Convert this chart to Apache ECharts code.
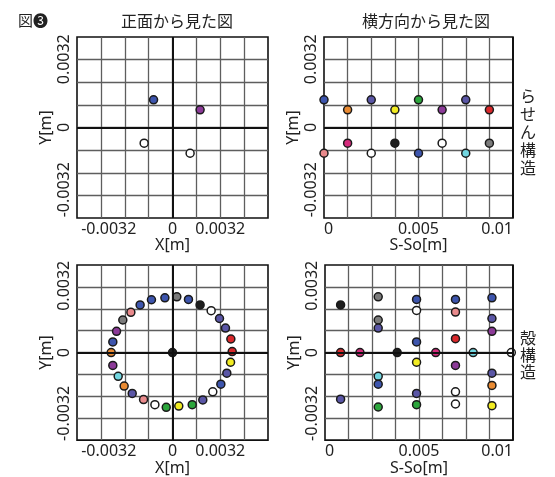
<!DOCTYPE html>
<html>
<head>
<meta charset="utf-8">
<script src="https://cdn.jsdelivr.net/npm/echarts@6/dist/echarts.min.js"></script>
<style>
  html, body { margin: 0; background: #fff; }
  #chart { width: 555px; height: 477px; }
</style>
</head>
<body>
<div id="chart"></div>
<script>
// fill colours of the markers
const palette = {
  blue: '#3d55ad', slate: '#5a56a6', purple: '#8c3a98', magenta: '#d52a7c',
  pink: '#e98a8c', red: '#d9282b', orange: '#e98a32', yellow: '#f2ec22',
  green: '#2ca63c', cyan: '#72d6e0', gray: '#7b7b7b', black: '#1e1e1e', white: '#ffffff'
}

// ---- helix, seen from the front
const helixFrontX = [-0.00127, 0.00185, -0.0019, 0.00118]
const helixFrontY = [0.00196, 0.00125, -0.00111, -0.00182]
const helixFrontColor = ['blue', 'purple', 'white', 'white']

// ---- helix, seen from the side
const helixSideS = [0, 0, 0.00125, 0.00125, 0.0025, 0.0025, 0.00375, 0.00375,
  0.005, 0.005, 0.00625, 0.00625, 0.0075, 0.0075, 0.00875, 0.00875]
const helixSideY = [0.00196, -0.00182, 0.00125, -0.00111, 0.00196, -0.00182, 0.00125, -0.00111,
  0.00196, -0.00182, 0.00125, -0.00111, 0.00196, -0.00182, 0.00125, -0.00111]
const helixSideColor = ['blue', 'pink', 'orange', 'magenta', 'slate', 'white', 'yellow', 'black',
  'green', 'blue', 'purple', 'white', 'slate', 'cyan', 'red', 'gray']

// ---- shell, seen from the front
const shellFrontX = [0.00029, 0.00107, 0.00185, 0.00259, 0.00315, 0.00355, 0.00391, 0.004,
  0.00389, 0.00364, 0.00324, 0.0027, 0.00203, 0.00132, 0.00042, -0.00042,
  -0.00118, -0.00194, -0.0027, -0.00324, -0.00364, -0.004, -0.00411, -0.004,
  -0.00375, -0.00333, -0.00279, -0.00217, -0.00141, -0.00051, 0]
const shellFrontY = [0.00407, 0.00388, 0.00348, 0.00306, 0.00249, 0.00179, 0.00099, 0.00007,
  -0.00071, -0.00151, -0.00231, -0.00287, -0.00346, -0.00381, -0.00391, -0.004,
  -0.00381, -0.00344, -0.00299, -0.00245, -0.00174, -0.00094, 0, 0.00078,
  0.00155, 0.00238, 0.00294, 0.00348, 0.00386, 0.004, 0]
const shellFrontColor = ['gray', 'blue', 'black', 'white', 'slate', 'slate', 'red', 'red',
  'yellow', 'slate', 'blue', 'white', 'slate', 'green', 'yellow', 'green',
  'white', 'pink', 'slate', 'orange', 'cyan', 'purple', 'orange', 'blue',
  'purple', 'gray', 'pink', 'blue', 'blue', 'blue', 'black']

// ---- shell, seen from the side
const shellSideS = [0.00083, 0.00083, 0.00083, 0.00186,
  0.00283, 0.00283, 0.00283, 0.00283, 0.00283, 0.00283, 0.00384,
  0.00487, 0.00487, 0.00487, 0.00487, 0.00487, 0.00487, 0.00589,
  0.00694, 0.00694, 0.00694, 0.00694, 0.00694, 0.00694, 0.00788,
  0.00888, 0.00888, 0.00888, 0.00888, 0.00888, 0.00888, 0.00991]
const shellSideY = [0.00348, 0, -0.00341, 0,
  0.00407, 0.00238, 0.00179, -0.00174, -0.00231, -0.00398, 0,
  0.00388, 0.00308, 0.00078, -0.00071, -0.00299, -0.00381, 0,
  0.00388, 0.00296, 0.00101, -0.00094, -0.00287, -0.00376, 0,
  0.004, 0.00249, 0.00155, -0.00151, -0.0024, -0.00388, 0]
const shellSideColor = ['black', 'red', 'slate', 'magenta',
  'gray', 'gray', 'slate', 'cyan', 'blue', 'green', 'black',
  'blue', 'white', 'blue', 'yellow', 'slate', 'green', 'magenta',
  'blue', 'pink', 'red', 'purple', 'white', 'white', 'cyan',
  'blue', 'slate', 'purple', 'slate', 'orange', 'yellow', 'white']

// tick labels
const frontTicks = [-0.0032, 0, 0.0032]
const sideTicks = [0, 0.005, 0.01]
const yTicks = [-0.0032, 0, 0.0032]

const labelFont = 'Noto Sans'
const jpFont = 'Noto Sans CJK JP'

function near(v, list) {
  return list.find(t => Math.abs(v - t) < 1e-7)
}
function tickText(t) {
  return t === 0 ? '0' : String(t)
}

function points(xs, ys, cs) {
  return xs.map((x, i) => ({ value: [x, ys[i]], itemStyle: { color: palette[cs[i]] } }))
}

const gridLine = { show: true, showMinLine: false, showMaxLine: false,
  lineStyle: { color: '#5e5e5e', width: 1.3 } }

function xAxisFront(gi) {
  return {
    type: 'value', gridIndex: gi, min: -0.0064, max: 0.0064, interval: 0.0016,
    axisLine: { show: false, onZero: false }, axisTick: { show: false },
    splitLine: gridLine,
    name: 'X[m]', nameLocation: 'middle', nameGap: 17,
    nameTextStyle: { fontFamily: labelFont, fontSize: 16, color: '#222' },
    axisLabel: {
      margin: 3, fontFamily: labelFont, fontSize: 16, color: '#222',
      formatter: v => {
        const t = near(v, frontTicks)
        if (t === undefined) return ''
        return t < 0 ? '{l|' + tickText(t) + '}' : tickText(t)
      },
      rich: { l: { fontFamily: labelFont, fontSize: 16, color: '#222', padding: [0, 32, 0, 0] } }
    }
  }
}

function xAxisSide(gi) {
  return {
    type: 'value', gridIndex: gi, min: 0, max: 0.01, interval: 0.00125,
    axisLine: { show: false, onZero: false }, axisTick: { show: false },
    splitLine: gridLine,
    name: 'S-So[m]', nameLocation: 'middle', nameGap: 17,
    nameTextStyle: { fontFamily: labelFont, fontSize: 16, color: '#222' },
    axisLabel: {
      margin: 3, fontFamily: labelFont, fontSize: 16, color: '#222',
      alignMinLabel: 'left', alignMaxLabel: 'right',
      formatter: v => {
        const t = near(v, sideTicks)
        return t === undefined ? '' : tickText(t)
      }
    }
  }
}

function yAxisAll(gi) {
  return {
    type: 'value', gridIndex: gi, min: -0.0064, max: 0.0064, interval: 0.0016,
    axisLine: { show: false, onZero: false }, axisTick: { show: false },
    splitLine: gridLine,
    name: 'Y[m]', nameLocation: 'middle', nameGap: 23,
    nameTextStyle: { fontFamily: labelFont, fontSize: 16, color: '#222' },
    axisLabel: {
      rotate: 90, margin: 5, fontFamily: labelFont, fontSize: 16, color: '#222',
      formatter: v => {
        const t = near(v, yTicks)
        if (t === undefined) return ''
        if (t > 0) return '{up|' + tickText(t) + '}'
        if (t < 0) return '{dn|' + tickText(t) + '}'
        return '0'
      },
      rich: {
        up: { fontFamily: labelFont, fontSize: 16, color: '#222', padding: [0, 0, 0, 46] },
        dn: { fontFamily: labelFont, fontSize: 16, color: '#222', padding: [0, 34, 0, 0] }
      }
    }
  }
}

function scatter(gi, data, centerX) {
  return {
    type: 'scatter', xAxisIndex: gi, yAxisIndex: gi, data: data,
    symbolSize: 8,
    itemStyle: { borderColor: '#1a1a1a', borderWidth: 1.5, opacity: 1 },
    markLine: {
      silent: true, symbol: 'none', label: { show: false }, animation: false,
      lineStyle: { color: '#111', width: 2, type: 'solid' },
      data: [{ xAxis: centerX }, { yAxis: 0 }]
    }
  }
}

const box = { show: true, borderColor: '#111', borderWidth: 1.6, containLabel: false }

const chart = echarts.init(document.getElementById('chart'), null, { renderer: 'canvas' })
chart.setOption({
  backgroundColor: '#fff',
  animation: false,
  textStyle: { fontFamily: labelFont },
  title: [
    { text: '図❸', left: 13, top: 8, textStyle: { fontFamily: jpFont, fontSize: 15, fontWeight: 'normal', color: '#222' } },
    { text: '正面から見た図', left: 172, top: 8, textAlign: 'center',
      textStyle: { fontFamily: jpFont, fontSize: 16, fontWeight: 'normal', color: '#222' } },
    { text: '横方向から見た図', left: 421, top: 8, textAlign: 'center',
      textStyle: { fontFamily: jpFont, fontSize: 16, fontWeight: 'normal', color: '#222' } }
  ],
  graphic: [
    { type: 'text', left: 520, top: 87,
      style: { text: 'ら\nせ\nん\n構\n造', font: '16px "Noto Sans CJK JP"', fill: '#222', lineHeight: 18, align: 'center' } },
    { type: 'text', left: 520, top: 329,
      style: { text: '殻\n構\n造', font: '16px "Noto Sans CJK JP"', fill: '#222', lineHeight: 17, align: 'center' } }
  ],
  grid: [
    Object.assign({ left: 77, top: 37, width: 191, height: 181 }, box),
    Object.assign({ left: 324, top: 37, width: 189, height: 181 }, box),
    Object.assign({ left: 77, top: 265, width: 191, height: 182 }, box),
    Object.assign({ left: 325, top: 265, width: 188, height: 182 }, box)
  ],
  xAxis: [xAxisFront(0), xAxisSide(1), xAxisFront(2), xAxisSide(3)],
  yAxis: [yAxisAll(0), yAxisAll(1), yAxisAll(2), yAxisAll(3)],
  series: [
    scatter(0, points(helixFrontX, helixFrontY, helixFrontColor), 0),
    scatter(1, points(helixSideS, helixSideY, helixSideColor), 0.005),
    scatter(2, points(shellFrontX, shellFrontY, shellFrontColor), 0),
    scatter(3, points(shellSideS, shellSideY, shellSideColor), 0.005)
  ]
})
</script>
</body>
</html>
